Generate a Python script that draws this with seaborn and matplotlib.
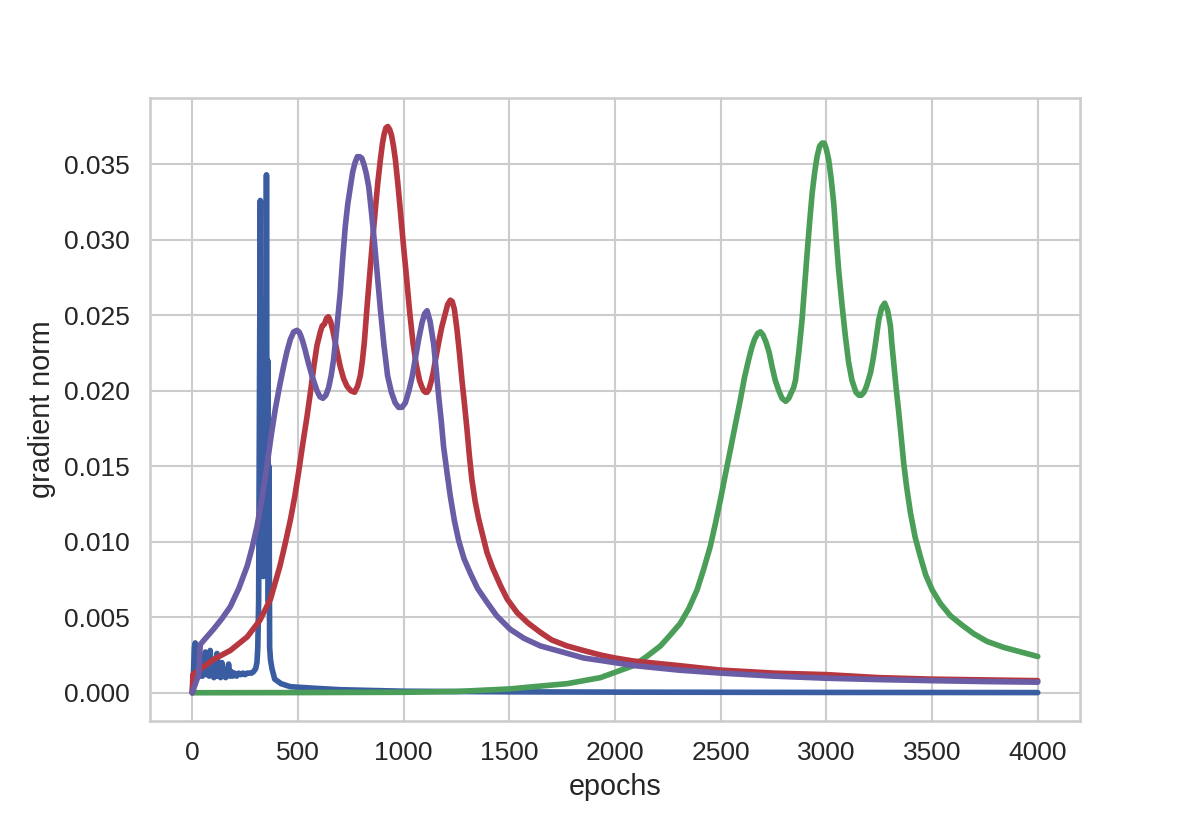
import numpy as np
import pandas as pd
import seaborn as sns
import matplotlib
matplotlib.use("Agg")
import matplotlib.pyplot as plt

# values (epoch, gradient norm)
blue_ep = [0, 5, 10, 14, 20, 28, 35, 42, 48, 55, 62, 68, 75, 80, 85, 90, 96, 102, 108, 112,
           117, 122, 128, 134, 140, 146, 152, 158, 165, 172, 178, 185, 192, 200, 210, 220,
           230, 240, 250, 260, 270, 280, 290, 300, 306, 310, 314, 318, 322, 324, 327, 330,
           333, 336, 339, 342, 345, 348, 351, 354, 357, 360, 363, 366, 370, 377, 390, 420,
           464, 574, 700, 1000, 1500, 2000, 3000, 4000]
blue_val = [0.0000, 0.0010, 0.0030, 0.0033, 0.0025, 0.0012, 0.0011, 0.0018, 0.0011, 0.0022,
            0.0027, 0.0012, 0.0020, 0.0011, 0.0028, 0.0012, 0.0019, 0.0010, 0.0017, 0.0011,
            0.0026, 0.0011, 0.0016, 0.0010, 0.0020, 0.0011, 0.0015, 0.0010, 0.0014, 0.0019,
            0.0011, 0.0014, 0.0011, 0.0013, 0.0011, 0.0013, 0.0012, 0.0013, 0.0012, 0.0013,
            0.0013, 0.0013, 0.0014, 0.0016, 0.0020, 0.0030, 0.0060, 0.0200, 0.0326, 0.0080,
            0.0260, 0.0078, 0.0255, 0.0077, 0.0250, 0.0078, 0.0260, 0.0080, 0.0343, 0.0100,
            0.0220, 0.0060, 0.0150, 0.0030, 0.0022, 0.0016, 0.0009, 0.0006, 0.0004, 0.0003,
            0.0002, 0.0001, 0.00006, 0.00004, 0.00002, 0.00001]

green_ep = [0, 500, 1000, 1250, 1380, 1500, 1615, 1773, 1931, 2088, 2150, 2215, 2260, 2309,
            2350, 2388, 2420, 2451, 2475, 2499, 2520, 2546, 2570, 2593, 2613, 2633, 2648,
            2660, 2675, 2688, 2700, 2715, 2730, 2743, 2758, 2775, 2790, 2808, 2822, 2835,
            2845, 2854, 2870, 2885, 2897, 2909, 2921, 2933, 2945, 2956, 2968, 2980, 2990,
            3000, 3011, 3023, 3035, 3046, 3058, 3074, 3090, 3105, 3121, 3140, 3154, 3165,
            3178, 3190, 3209, 3220, 3230, 3240, 3248, 3262, 3276, 3290, 3303, 3310, 3319,
            3330, 3343, 3355, 3366, 3380, 3398, 3420, 3445, 3470, 3501, 3540, 3587, 3640,
            3698, 3760, 3840, 3920, 4000]
green_val = [0.0, 0.00001, 0.00003, 0.00008, 0.00017, 0.00025, 0.0004, 0.0006, 0.0010,
             0.0018, 0.0024, 0.0031, 0.0038, 0.0046, 0.0056, 0.0068, 0.0082, 0.0097, 0.0112,
             0.0128, 0.0143, 0.0161, 0.0178, 0.0194, 0.0209, 0.0221, 0.0229, 0.0234, 0.0238,
             0.0239, 0.0237, 0.0232, 0.0225, 0.0216, 0.0207, 0.0200, 0.0195, 0.0193, 0.0195,
             0.0199, 0.0202, 0.0207, 0.0226, 0.0247, 0.0269, 0.0291, 0.0312, 0.0331, 0.0345,
             0.0355, 0.0362, 0.0364, 0.0364, 0.0360, 0.0353, 0.0340, 0.0324, 0.0302, 0.0280,
             0.0257, 0.0236, 0.0219, 0.0207, 0.0199, 0.0197, 0.0197, 0.0199, 0.0203, 0.0212,
             0.0220, 0.0229, 0.0239, 0.0247, 0.0255, 0.0258, 0.0253, 0.0243, 0.0231, 0.0218,
             0.0202, 0.0185, 0.0168, 0.0152, 0.0136, 0.0119, 0.0103, 0.0090, 0.0078, 0.0068,
             0.0059, 0.0051, 0.0045, 0.0039, 0.0034, 0.0030, 0.0027, 0.0024]

red_ep = [0, 3, 100, 180, 260, 320, 370, 415, 440, 465, 485, 503, 523, 543, 560, 575, 590,
          606, 615, 625, 635, 644, 654, 665, 675, 685, 700, 716, 732, 750, 768, 782, 795,
          805, 814, 826, 839, 852, 866, 878, 890, 900, 908, 916, 925, 934, 943, 952, 961,
          972, 984, 998, 1013, 1028, 1044, 1060, 1075, 1085, 1095, 1103, 1111, 1120, 1130,
          1140, 1150, 1166, 1180, 1195, 1208, 1221, 1230, 1240, 1252, 1264, 1276, 1288,
          1300, 1311, 1323, 1338, 1355, 1394, 1420, 1458, 1490, 1537, 1590, 1647, 1700,
          1773, 1850, 1931, 2000, 2088, 2300, 2500, 2750, 3000, 3250, 3500, 3750, 4000]
red_val = [0.0, 0.0012, 0.0022, 0.0028, 0.0037, 0.0048, 0.0062, 0.0084, 0.0099, 0.0115,
           0.0130, 0.0146, 0.0165, 0.0183, 0.0200, 0.0216, 0.0230, 0.0239, 0.0243, 0.0244,
           0.0248, 0.0249, 0.0246, 0.0240, 0.0233, 0.0226, 0.0216, 0.0208, 0.0203, 0.0200,
           0.0199, 0.0203, 0.0210, 0.0220, 0.0232, 0.0254, 0.0276, 0.0298, 0.0320, 0.0338,
           0.0353, 0.0364, 0.0370, 0.0374, 0.0375, 0.0373, 0.0369, 0.0362, 0.0353, 0.0338,
           0.0320, 0.0298, 0.0276, 0.0253, 0.0232, 0.0217, 0.0207, 0.0203, 0.0200, 0.0199,
           0.0199, 0.0201, 0.0206, 0.0212, 0.0220, 0.0232, 0.0242, 0.0250, 0.0257, 0.0260,
           0.0259, 0.0254, 0.0241, 0.0225, 0.0207, 0.0191, 0.0174, 0.0157, 0.0141, 0.0127,
           0.0115, 0.0093, 0.0083, 0.0071, 0.0062, 0.0053, 0.0046, 0.0040, 0.0035, 0.0031,
           0.0028, 0.0025, 0.0023, 0.0021, 0.0018, 0.0015, 0.0013, 0.0012, 0.0010, 0.0009,
           0.00085, 0.0008]

purple_ep = [0, 20, 30, 38, 100, 140, 180, 220, 260, 283, 306, 330, 353, 373, 393, 413, 432,
             448, 464, 480, 495, 505, 512, 522, 534, 550, 566, 590, 604, 618, 632, 645, 657,
             669, 685, 700, 712, 724, 736, 748, 759, 770, 781, 792, 802, 812, 823, 835, 848,
             862, 876, 890, 907, 924, 942, 960, 976, 992, 1008, 1025, 1040, 1055, 1071, 1087,
             1099, 1111, 1125, 1142, 1154, 1166, 1178, 1189, 1205, 1221, 1240, 1260, 1285,
             1316, 1350, 1394, 1440, 1504, 1570, 1647, 1750, 1852, 1950, 2088, 2300, 2500,
             2750, 3000, 3250, 3500, 3750, 4000]
purple_val = [0.0, 0.0008, 0.0012, 0.0032, 0.0042, 0.0049, 0.0057, 0.0069, 0.0084, 0.0096,
              0.0110, 0.0129, 0.0150, 0.0170, 0.0188, 0.0203, 0.0216, 0.0226, 0.0234, 0.0239,
              0.0240, 0.0239, 0.0237, 0.0233, 0.0227, 0.0218, 0.0210, 0.0200, 0.0196, 0.0195,
              0.0197, 0.0202, 0.0210, 0.0221, 0.0243, 0.0265, 0.0288, 0.0309, 0.0324, 0.0335,
              0.0345, 0.0351, 0.0355, 0.0355, 0.0354, 0.0350, 0.0344, 0.0335, 0.0318, 0.0298,
              0.0276, 0.0254, 0.0230, 0.0210, 0.0199, 0.0192, 0.0189, 0.0189, 0.0192, 0.0200,
              0.0209, 0.0221, 0.0234, 0.0245, 0.0251, 0.0253, 0.0246, 0.0231, 0.0214, 0.0196,
              0.0180, 0.0163, 0.0146, 0.0130, 0.0114, 0.0101, 0.0089, 0.0079, 0.0069, 0.0060,
              0.0051, 0.0042, 0.0036, 0.0031, 0.0027, 0.0023, 0.0021, 0.0018, 0.0015, 0.0013,
              0.0011, 0.00096, 0.00087, 0.0008, 0.00074, 0.0007]

series = [
    (blue_ep, blue_val, "#3a5da2"),
    (green_ep, green_val, "#4a9e58"),
    (red_ep, red_val, "#b6373f"),
    (purple_ep, purple_val, "#6b5ca6"),
]

sns.set_theme(style="whitegrid", context="notebook", font_scale=1.15)
plt.rcParams['font.family'] = ['Liberation Sans', 'DejaVu Sans']
plt.rcParams['axes.edgecolor'] = '.8'
plt.rcParams['grid.color'] = '.8'

fig, ax = plt.subplots(figsize=(8, 5.5), dpi=150)
fig.subplots_adjust(left=0.125, right=0.9, top=0.881, bottom=0.126)

for ep, val, col in series:
    sns.lineplot(x=ep, y=val, color=col, lw=2.7, ax=ax, sort=False, estimator=None)

ax.set_xticks([0, 500, 1000, 1500, 2000, 2500, 3000, 3500, 4000])
ax.set_yticks([0.0, 0.005, 0.010, 0.015, 0.020, 0.025, 0.030, 0.035])
ax.yaxis.set_major_formatter(matplotlib.ticker.FormatStrFormatter('%.3f'))
ax.set(xlabel="epochs", ylabel="gradient norm")
for sp in ax.spines.values():
    sp.set_color('.8')

fig.savefig("out.png", dpi=150)
